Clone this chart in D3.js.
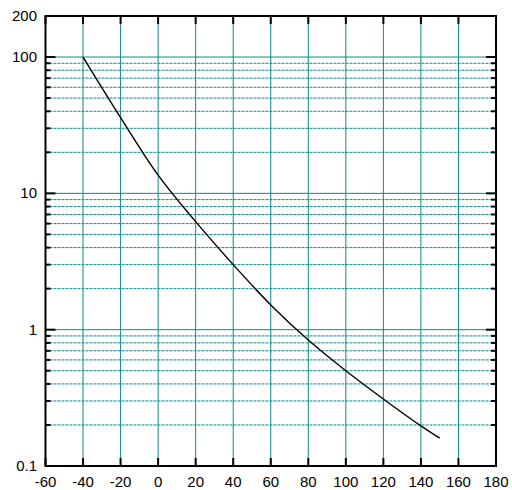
<!DOCTYPE html>
<html>
<head>
<meta charset="utf-8">
<script src="https://cdn.jsdelivr.net/npm/d3@7/dist/d3.min.js"></script>
<style>
  html, body { margin: 0; padding: 0; background: #fff; }
  svg { display: block; }
  text { font-family: "Liberation Sans", Arial, sans-serif; font-size: 15px; fill: #000; }
</style>
</head>
<body>
<svg id="chart" width="512" height="490"></svg>
<script>
// Temperature (x) and value on a logarithmic scale (y)
const temps  = [-40, -20, 0, 20, 40, 60, 80, 100, 120, 140, 150];
const values = [100, 36, 13.6, 6.2, 3.0, 1.52, 0.84, 0.50, 0.31, 0.197, 0.16];

const xTicks = [-60, -40, -20, 0, 20, 40, 60, 80, 100, 120, 140, 160, 180];
const yLabels = [0.1, 1, 10, 100, 200];
const yMajor = [1, 10, 100];
const yMinor = [0.2, 0.3, 0.4, 0.5, 0.6, 0.7, 0.8, 0.9,
                2, 3, 4, 5, 6, 7, 8, 9,
                20, 30, 40, 50, 60, 70, 80, 90];

const margin = { left: 45.5, right: 16, top: 16, bottom: 24 };
const W = 512, H = 490;
const svg = d3.select("#chart");

const x = d3.scaleLinear().domain([-60, 180]).range([margin.left, W - margin.right]);
const y = d3.scaleLog().domain([0.1, 200]).range([H - margin.bottom, margin.top]);

const x0 = x.range()[0], x1 = x.range()[1];
const y0 = y.range()[0], y1 = y.range()[1];
const teal = "#0a8a8a";

// vertical grid
svg.append("g").selectAll("line")
  .data(xTicks.slice(1, -1)).join("line")
  .attr("x1", d => x(d)).attr("x2", d => x(d))
  .attr("y1", y1).attr("y2", y0)
  .attr("stroke", teal).attr("stroke-width", 1);

// horizontal minor grid (dotted)
svg.append("g").selectAll("line")
  .data(yMinor).join("line")
  .attr("x1", x0).attr("x2", x1)
  .attr("y1", d => y(d)).attr("y2", d => y(d))
  .attr("stroke", teal).attr("stroke-width", 1)
  .attr("stroke-dasharray", "3,1");

// horizontal major grid (solid)
svg.append("g").selectAll("line")
  .data(yMajor).join("line")
  .attr("x1", x0).attr("x2", x1)
  .attr("y1", d => y(d)).attr("y2", d => y(d))
  .attr("stroke", teal).attr("stroke-width", 1);

// curve
const line = d3.line()
  .x((d, i) => x(temps[i]))
  .y(d => y(d))
  .curve(d3.curveMonotoneX);
svg.append("path")
  .attr("d", line(values))
  .attr("fill", "none")
  .attr("stroke", "#000")
  .attr("stroke-width", 1.4);

// tick marks
const ticks = svg.append("g").attr("stroke", "#000").attr("stroke-width", 2);
xTicks.forEach(t => {
  ticks.append("line").attr("x1", x(t)).attr("x2", x(t)).attr("y1", y1).attr("y2", y1 + 8);
  ticks.append("line").attr("x1", x(t)).attr("x2", x(t)).attr("y1", y0).attr("y2", y0 - 8);
});
yMajor.forEach(v => {
  ticks.append("line").attr("x1", x0).attr("x2", x0 + 10).attr("y1", y(v)).attr("y2", y(v));
  ticks.append("line").attr("x1", x1).attr("x2", x1 - 10).attr("y1", y(v)).attr("y2", y(v));
});
yMinor.forEach(v => {
  ticks.append("line").attr("x1", x0).attr("x2", x0 + 5).attr("y1", y(v)).attr("y2", y(v));
  ticks.append("line").attr("x1", x1).attr("x2", x1 - 5).attr("y1", y(v)).attr("y2", y(v));
});

// frame
svg.append("rect")
  .attr("x", x0).attr("y", y1)
  .attr("width", x1 - x0).attr("height", y0 - y1)
  .attr("fill", "none").attr("stroke", "#000").attr("stroke-width", 2);

// x labels
svg.append("g").selectAll("text")
  .data(xTicks).join("text")
  .attr("x", d => x(d)).attr("y", 487)
  .attr("text-anchor", "middle")
  .text(d => d);

// y labels
svg.append("g").selectAll("text")
  .data(yLabels).join("text")
  .attr("x", 37).attr("y", d => y(d) + 5)
  .attr("text-anchor", "end")
  .text(d => d);
</script>
</body>
</html>
